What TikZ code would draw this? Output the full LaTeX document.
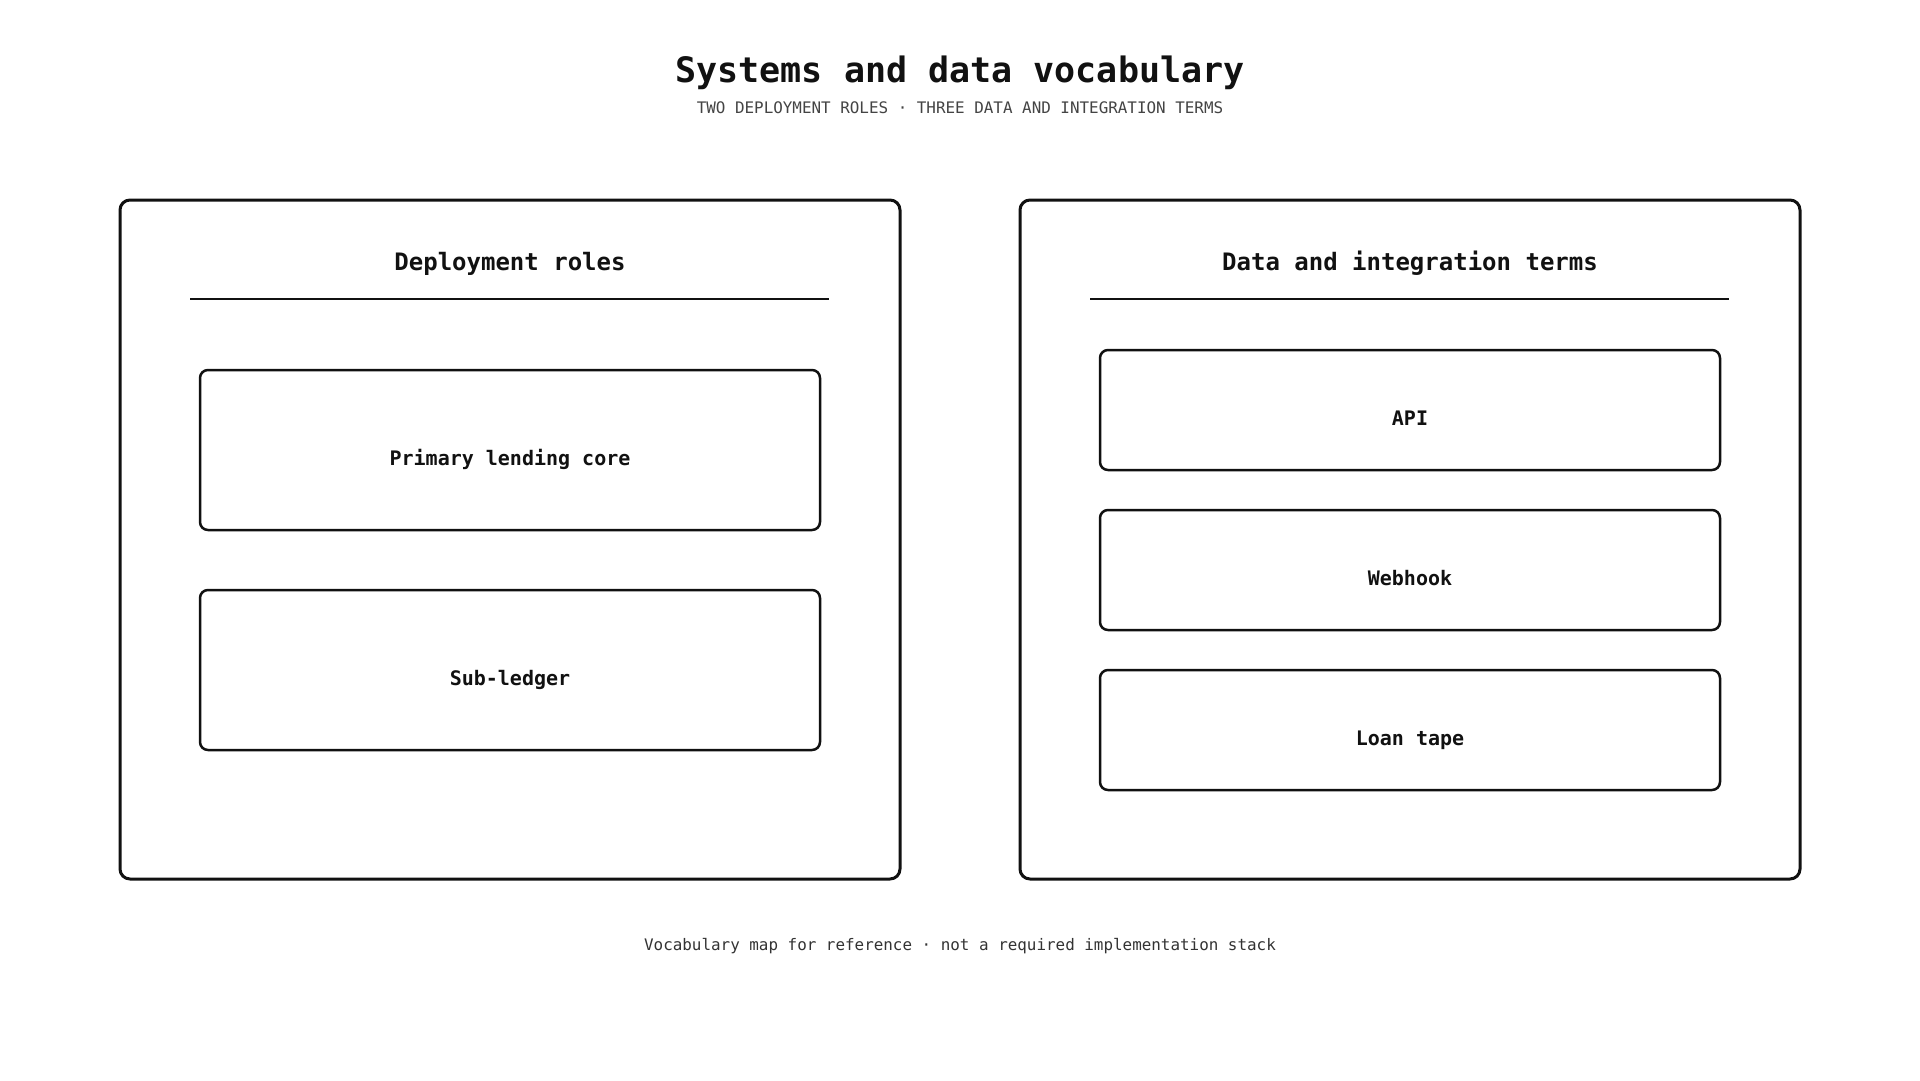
\documentclass[tikz,border=0pt]{standalone}
\usepackage{fontspec}
\setmonofont{DejaVu Sans Mono}
\usetikzlibrary{positioning}
\definecolor{ink}{HTML}{111111}
\definecolor{subgray}{HTML}{444444}
\definecolor{footgray}{HTML}{333333}
\tikzset{
	panel/.style={draw=ink, line width=3pt, rounded corners=10pt, minimum width=780pt, minimum height=679pt},
	termbox/.style={draw=ink, line width=2.5pt, rounded corners=8pt, minimum width=620pt, text=ink,
		font=\ttfamily\bfseries\fontsize{20}{24}\selectfont, text height=30pt, text depth=0pt},
	panelhead/.style={anchor=base, text=ink, font=\ttfamily\bfseries\fontsize{24}{28}\selectfont},
	rule/.style={draw=ink, line width=2pt},
}
\begin{document}
\begin{tikzpicture}[x=1pt,y=-1pt]
	\useasboundingbox[fill=white] (0,0) rectangle (1920,1080);
	%
	\node[anchor=base, text=ink, font=\ttfamily\bfseries\fontsize{35}{40}\selectfont] (title) at (960,82) {Systems and data vocabulary};
	\node[anchor=base, text=subgray, font=\ttfamily\fontsize{15.9}{19}\selectfont] (subtitle) at (960,113.5) {TWO DEPLOYMENT ROLES · THREE DATA AND INTEGRATION TERMS};
	%
	\node[panel] (roles) at (510,539.5) {};
	\node[panelhead] (roleshead) at (510,270.5) {Deployment roles};
	\draw[rule] (190,299) -- (829,299);
	\node[termbox, minimum height=160pt] (core) at (510,450) {Primary lending core};
	\node[termbox, minimum height=160pt, below=57.5pt of core] (subledger) {Sub-ledger};
	%
	\node[panel] (terms) at (1410,539.5) {};
	\node[panelhead] (termshead) at (1410,270.5) {Data and integration terms};
	\draw[rule] (1090,299) -- (1729,299);
	\node[termbox, minimum height=120pt] (api) at (1410,410) {API};
	\node[termbox, minimum height=120pt, below=37.5pt of api] (webhook) {Webhook};
	\node[termbox, minimum height=120pt, below=37.5pt of webhook] (loantape) {Loan tape};
	%
	\node[anchor=base, text=footgray, font=\ttfamily\fontsize{15.9}{19}\selectfont] (footer) at (960,950) {Vocabulary map for reference · not a required implementation stack};
\end{tikzpicture}
\end{document}
